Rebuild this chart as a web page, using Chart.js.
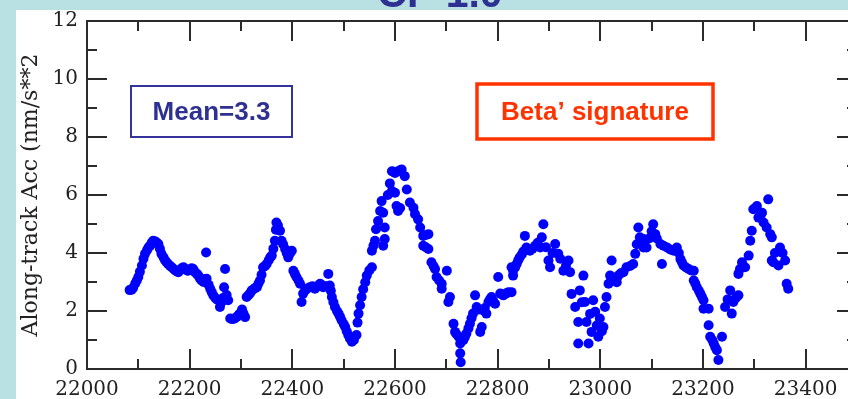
<!DOCTYPE html>
<html>
<head>
<meta charset="utf-8">
<script src="https://cdn.jsdelivr.net/npm/chart.js@4.4.1/dist/chart.umd.min.js"></script>
<style>
  html, body { margin: 0; padding: 0; overflow: hidden; background: #b9e1e3; }
  canvas { display: block; }
</style>
</head>
<body>
<canvas id="chart" width="870" height="399"></canvas>
<script>
// Along-track acceleration samples (time index, nm/s**2)
const sampleTime = [
  22083,22087,22090,22094,22097,22100,22103,22107,22110,22113,22117,22120,22123,22126,22129,22133,22136,22139,22142,22145,
  22149,22152,22155,22158,22162,22165,22169,22172,22175,22178,22182,22185,22188,22192,22195,22197,22201,22204,22207,22210,
  22214,22217,22220,22223,22227,22230,22233,22232,22237,22240,22243,22246,22250,22253,22256,22259,22262,22265,22267,22269,
  22272,22275,22279,22283,22288,22292,22296,22298,22302,22305,22308,22311,22315,22318,22321,22325,22328,22331,22334,22337,
  22340,22343,22347,22350,22354,22357,22360,22363,22366,22368,22369,22372,22376,22379,22382,22386,22389,22392,22396,22399,
  22402,22405,22408,22412,22415,22418,22421,22425,22429,22434,22439,22444,22449,22454,22457,22460,22466,22470,22473,22475,
  22477,22480,22483,22487,22490,22493,22496,22500,22503,22506,22509,22512,22516,22520,22525,22527,22529,22532,22535,22538,
  22542,22545,22550,22555,22555,22558,22561,22563,22567,22571,22574,22577,22580,22580,22577,22586,22590,22594,22597,22600,
  22606,22610,22613,22619,22594,22600,22623,22603,22606,22610,22629,22636,22639,22645,22649,22655,22660,22665,22655,22660,
  22665,22671,22675,22678,22681,22686,22691,22691,22701,22704,22707,22714,22717,22720,22724,22727,22727,22728,22733,22736,
  22739,22743,22746,22749,22752,22756,22759,22763,22766,22769,22772,22775,22778,22782,22785,22788,22791,22795,22801,22805,
  22811,22816,22821,22827,22830,22827,22830,22834,22837,22840,22843,22847,22850,22853,22856,22860,22863,22868,22873,22878,
  22883,22886,22889,22894,22899,22902,22907,22912,22918,22922,22928,22933,22938,22941,22944,22951,22957,22957,22960,22964,
  22967,22970,22973,22977,22980,22983,22986,22990,22993,22996,22999,23003,23006,23009,23012,23016,23019,23022,23026,23032,
  23035,23040,23045,23051,23058,23064,23068,23071,23074,23077,23080,23084,23084,23090,23095,23100,23103,23107,23110,23117,
  23120,23123,23130,23136,23143,23149,23153,23156,23159,23162,23167,23172,23177,23182,23182,23185,23188,23192,23195,23198,
  23201,23201,23211,23211,23214,23218,23221,23224,23227,23230,23237,23243,23248,23253,23256,23259,23264,23269,23269,23272,
  23276,23282,23289,23292,23295,23298,23302,23305,23308,23312,23315,23318,23324,23327,23331,23334,23334,23337,23340,23347,
  23350,23355,23360,23363,23366
];
const alongTrackAcc = [
  2.72,2.73,2.80,2.95,3.05,3.17,3.35,3.57,3.80,3.97,4.10,4.20,4.25,4.35,4.42,4.40,4.35,4.31,4.15,3.97,
  3.85,3.75,3.68,3.62,3.55,3.51,3.45,3.40,3.36,3.34,3.42,3.48,3.51,3.45,3.40,3.39,3.43,3.47,3.45,3.35,
  3.28,3.22,3.12,3.05,3.00,3.10,3.11,4.02,2.90,2.77,2.65,2.54,2.45,2.40,2.37,2.14,2.30,2.45,2.82,3.45,
  2.55,2.37,1.74,1.72,1.74,1.80,1.88,1.91,2.05,1.90,1.79,2.48,2.55,2.62,2.71,2.76,2.80,2.82,2.95,3.05,
  3.25,3.51,3.55,3.62,3.75,3.85,3.91,4.15,4.42,4.80,5.05,4.95,4.77,4.42,4.30,4.14,4.00,3.85,4.00,4.08,
  3.39,3.28,3.17,3.05,2.94,2.31,2.60,2.71,2.78,2.82,2.85,2.77,2.85,2.94,2.90,2.82,2.85,3.28,2.88,2.70,
  2.48,2.30,2.14,2.00,1.91,1.80,1.68,1.55,1.45,1.30,1.17,1.05,0.94,1.00,1.17,1.60,1.91,2.20,2.48,2.75,
  2.99,3.22,3.40,3.51,4.08,4.25,4.42,4.82,5.10,5.45,5.79,5.39,4.88,4.48,4.25,6.00,6.40,6.82,6.80,6.76,
  6.82,6.85,6.88,6.65,6.14,6.08,6.19,5.62,5.45,5.55,5.74,5.56,5.34,5.16,4.88,4.59,4.62,4.65,4.25,4.20,
  4.14,3.68,3.55,3.45,3.17,3.05,2.94,2.77,3.39,2.31,2.48,1.56,1.28,1.20,1.11,0.88,0.54,0.23,0.99,1.10,
  1.22,1.40,1.56,1.75,1.91,2.54,2.14,2.05,1.28,1.45,2.02,2.10,1.91,2.31,2.40,2.48,2.35,2.25,3.17,2.60,
  2.54,2.60,2.65,3.51,3.22,2.65,3.39,3.50,3.62,3.75,3.85,3.95,4.05,4.59,4.19,4.10,4.08,4.15,4.25,4.35,
  4.19,4.54,4.99,4.20,3.74,3.51,4.00,4.31,3.97,3.80,3.39,3.55,3.74,3.34,2.59,2.14,1.62,0.88,2.71,2.30,
  3.22,2.31,1.62,0.88,1.90,1.28,2.37,1.97,1.50,1.11,1.74,1.30,1.45,2.14,2.48,2.94,3.22,3.74,3.10,2.99,
  3.22,3.30,3.34,3.51,3.55,3.62,3.97,4.30,4.88,4.54,4.40,4.19,4.48,4.19,4.50,4.75,4.99,4.65,4.50,4.31,
  3.62,4.25,4.19,4.12,4.08,4.19,4.00,3.79,3.68,3.57,3.50,3.45,3.40,3.39,3.05,2.95,2.82,2.70,2.59,2.48,
  2.37,2.08,2.08,1.51,1.11,1.00,0.88,0.75,0.65,0.31,1.11,2.14,2.40,2.71,1.91,2.31,2.45,2.54,3.28,3.45,
  3.68,3.51,3.91,4.42,4.77,5.51,5.55,5.62,5.22,5.30,5.39,5.05,4.88,5.85,4.65,4.54,3.74,3.68,4.00,3.57,
  4.19,4.00,3.74,2.94,2.77
];

// Axis ticks
const xMajorTicks = [22000, 22200, 22400, 22600, 22800, 23000, 23200, 23400];
const xMinorTicks = [22100, 22300, 22500, 22700, 22900, 23100, 23300];
const yMajorTicks = [0, 2, 4, 6, 8, 10, 12];
const yMinorTicks = [1, 3, 5, 7, 9, 11];

const panelTitle = 'CP 1.0';
const yAxisTitle = 'Along-track Acc (nm/s**2';
const meanNote = 'Mean=3.3';
const betaNote = 'Beta\u2019 signature';

const points = sampleTime.map((t, i) => ({ x: t, y: alongTrackAcc[i] }));

const decorations = {
  id: 'decorations',
  beforeDraw(chart) {
    const { ctx, width, height } = chart;
    ctx.save();
    ctx.fillStyle = '#b9e1e3';
    ctx.fillRect(0, 0, width, height);
    ctx.fillStyle = '#ffffff';
    ctx.fillRect(16, 10, width - 16, height - 10);
    // panel heading, mostly above the top edge
    ctx.fillStyle = '#2e3192';
    ctx.font = 'bold 41px "Liberation Sans", Arial, sans-serif';
    ctx.textAlign = 'center';
    ctx.textBaseline = 'alphabetic';
    ctx.fillText(panelTitle, 440, 7);
    ctx.restore();
  },
  afterDatasetsDraw(chart) {
    const { ctx, chartArea: a, scales } = chart;
    const xs = scales.x, ys = scales.y;
    ctx.save();
    ctx.strokeStyle = '#2b2b2b';
    ctx.lineWidth = 2;
    ctx.strokeRect(a.left, a.top, a.right - a.left, a.bottom - a.top);
    ctx.beginPath();
    const xTick = (v, len) => {
      const p = Math.round(xs.getPixelForValue(v));
      ctx.moveTo(p, a.bottom); ctx.lineTo(p, a.bottom - len);
      ctx.moveTo(p, a.top); ctx.lineTo(p, a.top + len);
    };
    const yTick = (v, len) => {
      const p = Math.round(ys.getPixelForValue(v));
      ctx.moveTo(a.left, p); ctx.lineTo(a.left + len, p);
      ctx.moveTo(a.right, p); ctx.lineTo(a.right - len, p);
    };
    xMajorTicks.forEach(v => xTick(v, 20));
    xMinorTicks.forEach(v => xTick(v, 10));
    yMajorTicks.forEach(v => yTick(v, 20));
    yMinorTicks.forEach(v => yTick(v, 10));
    ctx.stroke();

    // vertical axis title
    ctx.fillStyle = '#222';
    ctx.font = '22px "DejaVu Serif", serif';
    ctx.textAlign = 'center';
    ctx.textBaseline = 'alphabetic';
    ctx.translate(37, (a.top + a.bottom) / 2);
    ctx.rotate(-Math.PI / 2);
    ctx.fillText(yAxisTitle, 0, 0);
    ctx.setTransform(1, 0, 0, 1, 0, 0);

    // note boxes
    ctx.font = 'bold 26px "Liberation Sans", Arial, sans-serif';
    ctx.textBaseline = 'middle';
    ctx.strokeStyle = '#333399';
    ctx.lineWidth = 2;
    ctx.strokeRect(131, 86, 161, 51);
    ctx.fillStyle = '#2e3192';
    ctx.fillText(meanNote, 211.5, 113);

    ctx.strokeStyle = '#ff3300';
    ctx.lineWidth = 3.5;
    ctx.strokeRect(477, 84, 236, 55);
    ctx.fillStyle = '#ff3300';
    ctx.fillText(betaNote, 595, 113);
    ctx.restore();
  }
};

new Chart(document.getElementById('chart'), {
  type: 'scatter',
  data: {
    datasets: [{
      data: points,
      pointRadius: 5,
      pointHoverRadius: 5,
      pointBackgroundColor: '#0000ff',
      pointBorderWidth: 0,
      borderWidth: 0
    }]
  },
  options: {
    responsive: false,
    animation: false,
    devicePixelRatio: 1,
    layout: { padding: { top: 19, right: 13, left: 0, bottom: 0 } },
    plugins: { legend: { display: false }, tooltip: { enabled: false } },
    scales: {
      x: {
        type: 'linear',
        min: 22000,
        max: 23500,
        afterBuildTicks: s => { s.ticks = xMajorTicks.map(v => ({ value: v })); },
        afterFit: s => { s.height = 30; },
        grid: { display: false, drawTicks: false },
        border: { display: false },
        ticks: {
          autoSkip: false,
          maxRotation: 0,
          padding: 9,
          color: '#222',
          font: { family: '"DejaVu Serif", serif', size: 20 },
          callback: v => String(v)
        }
      },
      y: {
        type: 'linear',
        min: 0,
        max: 12,
        afterBuildTicks: s => { s.ticks = yMajorTicks.map(v => ({ value: v })); },
        afterFit: s => { s.width = 87; },
        grid: { display: false, drawTicks: false },
        border: { display: false },
        ticks: {
          padding: 9,
          color: '#222',
          font: { family: '"DejaVu Serif", serif', size: 20 },
          callback: v => String(v)
        }
      }
    }
  },
  plugins: [decorations]
});
</script>
</body>
</html>
